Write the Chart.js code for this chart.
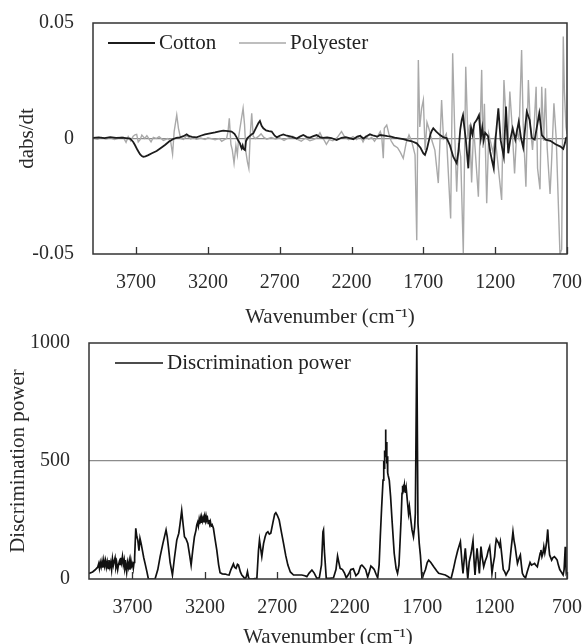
<!DOCTYPE html>
<html>
<head>
<meta charset="utf-8">
<script src="https://cdn.jsdelivr.net/npm/chart.js@4.4.1/dist/chart.umd.min.js"></script>
<style>
  html, body { margin: 0; padding: 0; background: #fff; overflow: hidden; }
  #wrap { position: relative; width: 582px; height: 644px; }
  #topChart { position: absolute; left: 0; top: 0; }
  #bottomChart { position: absolute; left: 0; top: 330px; }
</style>
</head>
<body>
<div id="wrap">
  <canvas id="topChart" width="582" height="330"></canvas>
  <canvas id="bottomChart" width="582" height="320"></canvas>
</div>
<script>
// x axis tick labels (wavenumber, cm-1)
const xTickValues = [3700, 3200, 2700, 2200, 1700, 1200, 700];

// top panel - first derivative spectra
const cottonWn = [4000, 3960, 3920, 3880, 3840, 3800, 3770, 3742, 3720, 3708, 3690, 3673, 3660, 3650, 3635, 3615, 3590, 3557, 3530, 3499,
  3470, 3441, 3420, 3395, 3370, 3348, 3330, 3310, 3279, 3250, 3220, 3185, 3150, 3120, 3093, 3060, 3035, 3015, 3000, 2988,
  2977, 2970, 2965, 2958, 2952, 2942, 2935, 2925, 2910, 2895, 2884, 2866, 2849, 2838, 2826, 2814, 2795, 2775, 2756, 2735,
  2720, 2700, 2675, 2650, 2620, 2600, 2582, 2560, 2536, 2510, 2490, 2466, 2443, 2420, 2400, 2370, 2340, 2304, 2270, 2240,
  2215, 2188, 2160, 2140, 2118, 2095, 2072, 2045, 2020, 2002, 1970, 1950, 1932, 1900, 1870, 1840, 1816, 1780, 1746, 1720,
  1700, 1689, 1675, 1666, 1650, 1640, 1631, 1610, 1584, 1560, 1538, 1515, 1492, 1468, 1455, 1443, 1433, 1424, 1415, 1405,
  1387, 1378, 1368, 1358, 1345, 1329, 1313, 1300, 1290, 1280, 1270, 1250, 1235, 1224, 1210, 1198, 1178, 1162, 1140, 1125,
  1109, 1095, 1078, 1060, 1036, 1020, 1005, 980, 960, 945, 925, 893, 875, 850, 816, 780, 745, 726, 714, 707, 700];
const cottonVal = [0.0003, 0.0005, 0.0002, 0.0006, 0.0003, 0.0004, 0.0002, 0, -0.0015, -0.0028, -0.0050, -0.0068, -0.0076, -0.0079, -0.0077, -0.0072, -0.0064, -0.0054, -0.0042, -0.0028,
  -0.0013, -0.0002, 0.0003, 0.0005, 0.0010, 0.0018, 0.0010, 0.0007, 0.0005, 0.0012, 0.0018, 0.0022, 0.0026, 0.0031, 0.0034, 0.0032, 0.0030, 0.0020, 0.0005, -0.0010,
  -0.0021, -0.0035, -0.0043, -0.0030, -0.0045, -0.0050, -0.0012, 0.0002, 0.0010, 0.0018, 0.0022, 0.0045, 0.0066, 0.0076, 0.0055, 0.0044, 0.0035, 0.0032, 0.0030, 0.0012,
  0.0005, 0.0012, 0.0018, 0.0012, 0.0008, 0.0004, 0, 0.0008, 0.0015, 0.0006, 0.0004, 0.0010, 0.0015, 0.0006, 0.0003, 0.0005, 0.0002, -0.0007, 0.0003, 0.0006,
  0.0002, -0.0003, 0.0008, 0.0012, 0, 0.0010, 0.0018, 0.0012, 0.0008, 0.0015, 0.0012, 0.0010, 0.0009, 0.0004, 0.0001, -0.0003, -0.0007, -0.0012, -0.0021, -0.0040,
  -0.0065, -0.0071, -0.0045, -0.0021, 0.0020, 0.0035, 0.0044, 0.0030, 0.0015, 0.0005, 0.0002, -0.0030, -0.0079, -0.0107, -0.0053, 0.0040, 0.0080, 0.0101, 0.0050, -0.0002,
  -0.0129, -0.0015, 0.0047, 0.0018, 0.0066, 0.0080, 0.0101, 0.0002, 0.0047, -0.0007, 0.0025, 0.0010, -0.0057, -0.0090, -0.0129, -0.0007, 0.0131, -0.0007, -0.0079, 0.0138,
  -0.0064, -0.0005, 0.0044, -0.0005, 0.0073, 0.0002, -0.0039, 0.0116, 0.0080, 0.0002, -0.0005, 0.0109, 0.0015, -0.0005, -0.0010, -0.0025, -0.0035, -0.0045, -0.0020, 0.0002, 0.0005];

const polyesterWn = [4000, 3970, 3940, 3910, 3880, 3850, 3820, 3790, 3770, 3755, 3738, 3720, 3708, 3696, 3685, 3672, 3660, 3640, 3625, 3610,
  3596, 3580, 3560, 3540, 3510, 3480, 3460, 3446, 3435, 3417, 3405, 3390, 3370, 3348, 3320, 3300, 3280, 3250, 3220, 3200,
  3150, 3120, 3104, 3085, 3070, 3060, 3051, 3040, 3030, 3018, 3005, 2995, 2985, 2968, 2955, 2945, 2935, 2925, 2915, 2905,
  2895, 2885, 2870, 2850, 2830, 2810, 2790, 2760, 2730, 2700, 2670, 2640, 2610, 2580, 2550, 2520, 2490, 2460, 2440, 2420,
  2405, 2390, 2375, 2355, 2330, 2300, 2270, 2245, 2220, 2190, 2165, 2140, 2120, 2100, 2080, 2060, 2040, 2020, 2000, 1990,
  1979, 1972, 1955, 1940, 1925, 1905, 1880, 1860, 1840, 1820, 1800, 1780, 1758, 1746, 1735, 1725, 1712, 1700, 1688, 1675,
  1660, 1640, 1620, 1596, 1573, 1560, 1540, 1510, 1496, 1480, 1468, 1455, 1440, 1422, 1405, 1390, 1378, 1364, 1350, 1317,
  1294, 1285, 1275, 1259, 1245, 1215, 1200, 1155, 1139, 1125, 1112, 1098, 1085, 1065, 1050, 1035, 1016, 1005, 986, 969,
  955, 940, 930, 915, 905, 888, 876, 862, 850, 838, 818, 808, 791, 775, 749, 737, 726, 718, 707, 700];
const polyesterVal = [0.0002, -0.0003, 0.0004, -0.0002, 0.0003, -0.0004, 0.0002, 0.0006, -0.0017, 0.0008, -0.0010, 0.0010, 0.0016, 0.0018, -0.0015, -0.0005, 0.0015, 0, 0.0012, -0.0002,
  -0.0015, 0.0005, 0, 0.0008, -0.0008, 0, -0.0010, -0.0068, 0.0030, 0.0102, 0.0044, 0, -0.0004, 0.0012, -0.0002, 0.0004, -0.0003, 0.0002, -0.0004, 0.0003,
  -0.0005, 0, -0.0012, -0.0005, 0, 0.0030, 0.0087, -0.0025, -0.0050, -0.0107, -0.0030, -0.0070, 0.0010, 0.0080, 0.0131, 0.0060, -0.0060, -0.0101, -0.0129, 0.0020,
  0.0109, 0.0010, 0, 0.0008, 0.0020, 0.0005, -0.0003, 0.0004, -0.0002, 0.0003, -0.0008, 0.0003, 0.0010, -0.0003, -0.0012, 0.0002, -0.0010, -0.0004, 0.0004, 0.0025,
  0.0005, -0.0008, -0.0025, -0.0005, -0.0010, 0.0004, 0.0030, 0.0004, -0.0005, 0.0008, -0.0005, 0.0012, -0.0015, 0.0010, -0.0003, 0.0005, -0.0012, 0.0008, 0.0030, 0.0010,
  -0.0085, 0.0044, 0.0058, 0.0020, -0.0010, -0.0030, -0.0040, -0.0060, -0.0086, -0.0020, 0.0015, -0.0015, -0.0071, -0.0440, 0.0340, 0.0050, 0.0130, 0.0167, -0.0050, 0.0070,
  0.0040, -0.0010, -0.0050, -0.0193, 0.0167, 0, 0.0020, -0.0346, 0.0369, -0.0010, -0.0230, -0.0020, -0.0080, -0.0496, 0.0311, 0, 0.0060, -0.0190, 0.0050, -0.0252,
  0.0297, -0.0040, 0.0150, -0.0280, 0.0020, -0.0060, 0.0005, -0.0266, 0.0253, 0.0090, -0.0040, 0.0203, 0.0080, -0.0151, 0.0030, 0, 0.0383, 0.0060, -0.0209, 0.0253,
  0.0050, -0.0050, 0.0040, 0.0224, -0.0129, -0.0220, 0.0224, -0.0010, 0.0217, -0.0040, -0.0240, -0.0110, 0.0152, 0, -0.0500, -0.0480, 0.0441, 0.0200, 0.0050, 0.0020];

// bottom panel - discrimination power
const powerWn = [4000, 3975, 3959, 3940, 3933, 3928, 3922, 3916, 3910, 3904,
  3898, 3892, 3886, 3880, 3874, 3868, 3862, 3856, 3850, 3844,
  3838, 3832, 3826, 3820, 3814, 3808, 3802, 3797, 3790, 3785,
  3780, 3775, 3769, 3763, 3757, 3752, 3746, 3740, 3734, 3728,
  3722, 3717, 3711, 3705, 3699, 3694, 3689, 3685, 3677, 3670,
  3663, 3655, 3648, 3640, 3632, 3622, 3613, 3600, 3590, 3570,
  3544, 3525, 3509, 3490, 3468, 3460, 3452, 3440, 3424, 3410,
  3394, 3380, 3372, 3360, 3350, 3341, 3330, 3318, 3305, 3295,
  3284, 3272, 3262, 3256, 3250, 3245, 3240, 3236, 3231, 3227,
  3222, 3217, 3212, 3207, 3202, 3197, 3192, 3187, 3182, 3177,
  3172, 3167, 3162, 3157, 3150, 3141, 3130, 3118, 3105, 3095,
  3080, 3060, 3045, 3033, 3020, 3003, 2995, 2985, 2975, 2968,
  2955, 2945, 2935, 2922, 2914, 2906, 2898, 2890, 2870, 2855,
  2841, 2830, 2823, 2815, 2807, 2795, 2784, 2775, 2765, 2755,
  2745, 2730, 2718, 2710, 2700, 2687, 2672, 2657, 2642, 2627,
  2610, 2588, 2560, 2531, 2510, 2496, 2480, 2461, 2445, 2427,
  2410, 2395, 2385, 2381, 2375, 2362, 2340, 2312, 2295, 2284,
  2275, 2266, 2250, 2236, 2224, 2208, 2192, 2175, 2157, 2140,
  2125, 2116, 2105, 2090, 2076, 2065, 2054, 2042, 2031, 2018,
  2007, 1997, 1989, 1980, 1970, 1965, 1962, 1959, 1956, 1953,
  1950, 1947, 1944, 1941, 1938, 1935, 1927, 1918, 1908, 1893,
  1880, 1870, 1860, 1852, 1845, 1839, 1835, 1832, 1829, 1826,
  1823, 1820, 1817, 1814, 1810, 1802, 1794, 1788, 1780, 1770,
  1760, 1752, 1747, 1737, 1729, 1720, 1712, 1701, 1690, 1677,
  1665, 1655, 1640, 1620, 1600, 1586, 1560, 1540, 1520, 1501,
  1485, 1471, 1455, 1436, 1425, 1418, 1410, 1402, 1393, 1385,
  1375, 1362, 1349, 1340, 1335, 1328, 1321, 1312, 1305, 1294,
  1285, 1275, 1265, 1253, 1244, 1234, 1225, 1218, 1210, 1200,
  1194, 1188, 1180, 1172, 1166, 1160, 1150, 1140, 1130, 1121,
  1110, 1100, 1087, 1073, 1065, 1058, 1050, 1042, 1030, 1022,
  1015, 1008, 998, 986, 975, 964, 955, 945, 935, 924,
  915, 905, 895, 885, 880, 873, 866, 860, 853, 847,
  840, 833, 826, 820, 806, 798, 787, 777, 768, 760,
  750, 740, 727, 720, 712, 708, 705, 700];
const powerVal = [24, 30, 38, 50, 65, 45, 70, 52, 75, 48,
  80, 55, 78, 50, 72, 45, 80, 52, 70, 40,
  85, 58, 75, 90, 50, 66, 40, 59, 75, 62,
  90, 70, 95, 60, 80, 45, 62, 30, 70, 50,
  75, 40, 80, 55, 65, 45, 70, 90, 215, 180,
  165, 120, 172, 150, 123, 90, 66, 30, 0, 0,
  0, 40, 95, 150, 208, 180, 137, 70, 17, 90,
  165, 194, 230, 290, 230, 179, 170, 151, 100, 59,
  120, 179, 205, 229, 240, 225, 250, 232, 255, 238,
  262, 245, 258, 240, 265, 248, 268, 250, 258, 236,
  250, 232, 243, 225, 230, 215, 170, 123, 60, 27,
  22, 21, 18, 17, 40, 64, 50, 45, 62, 59,
  30, 17, 10, 0, 10, 31, 5, 0, 0, 2,
  3, 120, 165, 130, 95, 150, 179, 195, 200, 190,
  194, 240, 275, 281, 270, 250, 200, 151, 100, 59,
  30, 17, 17, 17, 14, 10, 25, 38, 25, 3,
  5, 60, 200, 208, 120, 3, 3, 5, 40, 97,
  70, 45, 40, 25, 5, 20, 40, 43, 14, 25,
  55, 59, 52, 40, 8, 30, 55, 48, 40, 20,
  5, 60, 179, 300, 419, 500, 470, 545, 520, 634,
  540, 580, 490, 520, 450, 440, 419, 350, 250, 109,
  45, 24, 60, 165, 260, 363, 395, 370, 400, 380,
  398, 372, 390, 365, 384, 330, 278, 306, 260, 208,
  179, 220, 278, 992, 236, 150, 100, 0, 20, 40,
  70, 80, 70, 52, 35, 24, 20, 17, 10, 0,
  40, 80, 120, 158, 70, 24, 80, 130, 60, 0,
  73, 110, 162, 60, 17, 80, 130, 70, 24, 137,
  90, 52, 75, 95, 120, 137, 80, 24, 60, 95,
  140, 169, 160, 151, 140, 158, 100, 40, 30, 17,
  30, 40, 120, 200, 160, 137, 100, 66, 90, 102,
  60, 24, 12, 5, 30, 52, 70, 59, 62, 66,
  58, 52, 80, 110, 123, 95, 110, 137, 110, 130,
  160, 210, 140, 102, 80, 90, 95, 88, 80, 60,
  40, 30, 17, 40, 137, 60, 24, 30];

const toPoints = (xs, ys) => xs.map((x, i) => ({ x: x, y: ys[i] }));

const serif = '"Liberation Serif", "Times New Roman", serif';

// box around the plot area plus the short inward tick marks
const framePlugin = {
  id: 'frame',
  afterDatasetsDraw(chart) {
    const { ctx, chartArea: a, scales: { x } } = chart;
    ctx.save();
    ctx.strokeStyle = '#333';
    ctx.lineWidth = 1.5;
    ctx.strokeRect(a.left, a.top, a.right - a.left, a.bottom - a.top);
    ctx.lineWidth = 1.3;
    ctx.beginPath();
    x.ticks.forEach(t => {
      const px = Math.round(x.getPixelForValue(t.value)) + 0.5;
      ctx.moveTo(px, a.bottom);
      ctx.lineTo(px, a.bottom - 7);
    });
    ctx.stroke();
    ctx.restore();
  }
};

// legend drawn inside the plot area, like the original figure
const inlineLegend = {
  id: 'inlineLegend',
  afterDraw(chart, args, opts) {
    const ctx = chart.ctx;
    ctx.save();
    ctx.font = '21px ' + serif;
    ctx.textBaseline = 'middle';
    ctx.fillStyle = '#222';
    chart.data.datasets.forEach((ds, i) => {
      const x0 = opts.starts[i];
      ctx.strokeStyle = ds.borderColor;
      ctx.lineWidth = ds.borderWidth;
      ctx.beginPath();
      ctx.moveTo(x0, opts.y);
      ctx.lineTo(x0 + opts.lineLength, opts.y);
      ctx.stroke();
      ctx.fillText(ds.label, x0 + opts.lineLength + 4, opts.y);
    });
    ctx.restore();
  }
};

function panelOptions(cfg) {
  return {
    responsive: false,
    animation: false,
    devicePixelRatio: 1,
    layout: { padding: { left: 0, right: 15, top: cfg.padTop, bottom: 0 } },
    plugins: {
      legend: { display: false },
      tooltip: { enabled: false },
      inlineLegend: cfg.legend
    },
    elements: { point: { radius: 0 }, line: { tension: 0 } },
    scales: {
      x: {
        type: 'linear',
        reverse: true,
        min: 700,
        max: 4000,
        afterBuildTicks: s => { s.ticks = xTickValues.map(v => ({ value: v })); },
        afterFit: s => { s.height = cfg.xHeight; s.paddingLeft = 0; s.paddingRight = 0; },
        grid: { display: false, drawTicks: false },
        border: { display: false },
        ticks: {
          autoSkip: false,
          maxRotation: 0,
          padding: 17,
          color: '#2a2a2a',
          font: { family: serif, size: 20 },
          callback: v => String(v)
        },
        title: {
          display: true,
          text: 'Wavenumber (cm\u207B\u00B9)',
          color: '#2a2a2a',
          font: { family: serif, size: 21 },
          padding: { top: 0, bottom: 0 }
        }
      },
      y: {
        min: cfg.yMin,
        max: cfg.yMax,
        afterFit: s => { s.width = cfg.yWidth; s.paddingTop = 0; s.paddingBottom = 0; },
        grid: {
          drawTicks: false,
          lineWidth: 1.3,
          color: c => (c.tick && Math.abs(c.tick.value - cfg.refLine) < 1e-9) ? '#8c8c8c' : 'rgba(0,0,0,0)'
        },
        border: { display: false },
        ticks: {
          stepSize: cfg.yStep,
          padding: 19,
          color: '#2a2a2a',
          font: { family: serif, size: 20 },
          callback: cfg.yFormat
        },
        title: {
          display: true,
          text: cfg.yTitle,
          color: '#2a2a2a',
          font: { family: serif, size: 21 },
          padding: { top: cfg.yTitlePad, bottom: 0 }
        }
      }
    }
  };
}

new Chart(document.getElementById('topChart'), {
  type: 'line',
  data: {
    datasets: [
      { label: 'Cotton', data: toPoints(cottonWn, cottonVal), borderColor: '#1c1c1c', borderWidth: 1.8, fill: false },
      { label: 'Polyester', data: toPoints(polyesterWn, polyesterVal), borderColor: '#a9a9a9', borderWidth: 1.4, fill: false }
    ]
  },
  options: panelOptions({
    padTop: 23, xHeight: 76, yWidth: 93, yTitlePad: 15,
    yMin: -0.05, yMax: 0.05, yStep: 0.05, refLine: 0,
    yTitle: 'dabs/dt',
    yFormat: v => Math.abs(v) < 1e-9 ? '0' : v.toFixed(2),
    legend: { starts: [108, 239], lineLength: 47, y: 43 }
  }),
  plugins: [framePlugin, inlineLegend]
});

new Chart(document.getElementById('bottomChart'), {
  type: 'line',
  data: {
    datasets: [
      { label: 'Discrimination power', data: toPoints(powerWn, powerVal), borderColor: '#111', borderWidth: 1.7, fill: false }
    ]
  },
  options: panelOptions({
    padTop: 13, xHeight: 71, yWidth: 89, yTitlePad: 6,
    yMin: 0, yMax: 1000, yStep: 500, refLine: 500,
    yTitle: 'Discrimination power',
    yFormat: v => String(v),
    legend: { starts: [115], lineLength: 48, y: 33 }
  }),
  plugins: [framePlugin, inlineLegend]
});
</script>
</body>
</html>
